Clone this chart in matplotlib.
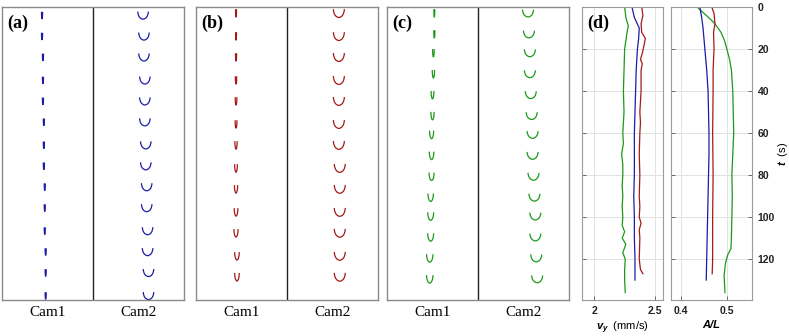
import matplotlib
matplotlib.use("Agg")
import matplotlib.pyplot as plt
from matplotlib.patches import Arc

plt.rcParams["mathtext.fontset"] = "custom"
plt.rcParams["mathtext.it"] = "Liberation Sans:italic:bold"
plt.rcParams["mathtext.rm"] = "Liberation Sans"

BLUE = "#1c1ca6"
RED = "#a51818"
GREEN = "#1a9a1a"

# ---- snapshot panels (a)-(c): frame time, lateral position, shape size ----
a_t = [4, 14, 24, 35, 45, 55, 66, 76, 86, 96, 107, 117, 127, 138]
a_cam1_x = [0.44, 0.44, 0.45, 0.45, 0.45, 0.46, 0.46, 0.46, 0.47, 0.47, 0.47, 0.48, 0.48, 0.48]
a_cam2_x = [1.55, 1.56, 1.56, 1.57, 1.57, 1.57, 1.58, 1.58, 1.59, 1.59, 1.60, 1.60, 1.61, 1.61]
a_cam1_w = [0.012] * 14
a_cam2_w = [0.115] * 14

b_t = [3, 14, 24, 35, 45, 56, 66, 77, 87, 98, 108, 119, 129]
b_cam1_x = [0.44, 0.44, 0.44, 0.44, 0.44, 0.44, 0.44, 0.44, 0.44, 0.44, 0.44, 0.45, 0.45]
b_cam2_x = [1.57, 1.57, 1.57, 1.57, 1.57, 1.57, 1.57, 1.58, 1.58, 1.58, 1.58, 1.58, 1.58]
b_cam1_w = [0.01, 0.01, 0.012, 0.015, 0.018, 0.02, 0.025, 0.03, 0.035, 0.04, 0.045, 0.05, 0.05]
b_cam2_w = [0.12] * 13

c_t = [3, 13, 22, 32, 42, 52, 61, 71, 81, 91, 100, 110, 120, 130]
c_cam1_x = [0.52, 0.52, 0.51, 0.51, 0.50, 0.50, 0.49, 0.49, 0.49, 0.48, 0.48, 0.48, 0.47, 0.47]
c_cam2_x = [1.55, 1.56, 1.57, 1.57, 1.58, 1.59, 1.60, 1.60, 1.61, 1.62, 1.63, 1.63, 1.64, 1.65]
c_cam1_w = [0.01, 0.012, 0.018, 0.025, 0.03, 0.035, 0.045, 0.05, 0.055, 0.06, 0.065, 0.065, 0.07, 0.07]
c_cam2_w = [0.12] * 14

# ---- panel (d): swimming speed and amplitude vs time ----
vy_green_t = [0, 5, 9, 12, 20, 30, 40, 50, 55, 60, 65, 70, 75, 80, 85, 90, 95, 100, 104, 107, 110, 113, 117, 120, 125, 130, 136]
vy_green = [2.25, 2.26, 2.28, 2.27, 2.25, 2.245, 2.24, 2.245, 2.24, 2.235, 2.24, 2.225, 2.235, 2.235, 2.23, 2.235, 2.23,
            2.235, 2.23, 2.25, 2.23, 2.26, 2.235, 2.255, 2.25, 2.25, 2.255]
vy_blue_t = [0, 5, 10, 15, 20, 25, 30, 40, 50, 60, 70, 80, 90, 100, 110, 120, 130]
vy_blue = [2.31, 2.33, 2.37, 2.365, 2.355, 2.35, 2.345, 2.34, 2.335, 2.33, 2.33, 2.33, 2.325, 2.33, 2.33, 2.335, 2.335]
vy_red_t = [0, 4, 8, 12, 15, 18, 22, 25, 27, 30, 40, 50, 55, 60, 70, 80, 90, 95, 100, 103, 106, 110, 120, 125, 127]
vy_red = [2.39, 2.40, 2.385, 2.39, 2.42, 2.41, 2.395, 2.38, 2.395, 2.385, 2.385, 2.375, 2.38, 2.375, 2.37, 2.375, 2.37,
          2.375, 2.37, 2.385, 2.37, 2.375, 2.37, 2.38, 2.40]

al_green_t = [0, 3, 6, 8, 12, 16, 20, 25, 30, 40, 50, 60, 70, 80, 90, 100, 110, 115, 118, 122, 128, 136]
al_green = [0.435, 0.45, 0.465, 0.474, 0.487, 0.495, 0.50, 0.506, 0.51, 0.513, 0.514, 0.515, 0.513, 0.511, 0.512,
            0.511, 0.51, 0.509, 0.502, 0.497, 0.494, 0.496]
al_blue_t = [0, 5, 10, 20, 30, 40, 50, 60, 70, 80, 90, 100, 110, 120, 130]
al_blue = [0.441, 0.445, 0.448, 0.452, 0.456, 0.459, 0.46, 0.461, 0.461, 0.46, 0.459, 0.458, 0.457, 0.456, 0.455]
al_red_t = [0, 3, 8, 12, 20, 30, 40, 60, 80, 100, 120, 127]
al_red = [0.467, 0.472, 0.474, 0.471, 0.472, 0.470, 0.470, 0.469, 0.470, 0.469, 0.469, 0.468]

W, H = 789, 336
FIG = plt.figure(figsize=(W / 100, H / 100), dpi=100)


def px_axes(x0, x1, y0=7, y1=300):
    """axes from pixel box (top-left origin)"""
    return FIG.add_axes([x0 / W, 1 - y1 / H, (x1 - x0) / W, (y1 - y0) / H])


def draw_marks(ax, ts, xs, ws, depth, color, skew=0):
    for t, x, w in zip(ts, xs, ws):
        # lower half of an ellipse -> U shape (y axis is inverted)
        arc = Arc((x, t - depth / 2), w, 2 * depth, theta1=0 + skew, theta2=180 + skew,
                  color=color, lw=0.9)
        ax.add_patch(arc)


def snapshot_panel(x0, x1, letter, ts, x1s, w1s, x2s, w2s, d1, d2, color, skew2=0):
    ax = px_axes(x0, x1)
    ax.set_xlim(0, 2)
    ax.set_ylim(140, 0)
    ax.set_xticks([])
    ax.set_yticks([])
    for s in ax.spines.values():
        s.set_color("#8a8a8a")
        s.set_linewidth(1.0)
    ax.axvline(1, color="#222222", lw=1.0)
    draw_marks(ax, ts, x1s, w1s, d1, color)
    draw_marks(ax, ts, x2s, w2s, d2, color, skew2)
    ax.text(0.03, 0.975, letter, transform=ax.transAxes, ha="left", va="top",
            family="Liberation Serif", fontweight="bold", fontsize=13)
    for xc, name in ((0.5, "Cam1"), (1.5, "Cam2")):
        ax.text(xc, -0.022, name, ha="center", va="top", transform=ax.get_xaxis_transform(),
                family="Liberation Serif", fontsize=11)
    return ax


snapshot_panel(2, 184, "(a)", a_t, a_cam1_x, a_cam1_w, a_cam2_x, a_cam2_w, 3.4, 3.6, BLUE)
snapshot_panel(196, 378, "(b)", b_t, b_cam1_x, b_cam1_w, b_cam2_x, b_cam2_w, 3.8, 4.0, RED)
snapshot_panel(387, 569, "(c)", c_t, c_cam1_x, c_cam1_w, c_cam2_x, c_cam2_w, 3.8, 3.5, GREEN, skew2=15)

# panel (d)
AXV = px_axes(582, 663)
AXA = px_axes(671, 752)
for ax in (AXV, AXA):
    ax.set_ylim(139.5, 0)
    ax.set_yticks([0, 20, 40, 60, 80, 100, 120])
    ax.grid(True, color="#e2e2e2", lw=0.7)
    ax.set_axisbelow(True)
    for s in ax.spines.values():
        s.set_color("#9a9a9a")
        s.set_linewidth(0.8)
    ax.tick_params(direction="in", length=3, width=0.6, color="#555555",
                   labelsize=7.5, labelcolor="#222222", pad=4)

AXV.plot(vy_green, vy_green_t, color=GREEN, lw=0.9)
AXV.plot(vy_blue, vy_blue_t, color=BLUE, lw=0.9)
AXV.plot(vy_red, vy_red_t, color=RED, lw=0.9)
AXV.set_xlim(1.9, 2.565)
AXV.set_xticks([2, 2.5])
AXV.set_xticklabels(["2", "2.5"])
AXV.tick_params(axis="y", labelleft=False)
AXV.set_xlabel(r"$v_y$  (mm/s)", fontsize=8, family="Liberation Sans", labelpad=3)
AXV.text(0.06, 0.975, "(d)", transform=AXV.transAxes, ha="left", va="top",
         family="Liberation Serif", fontweight="bold", fontsize=13)

AXA.plot(al_green, al_green_t, color=GREEN, lw=0.9)
AXA.plot(al_blue, al_blue_t, color=BLUE, lw=0.9)
AXA.plot(al_red, al_red_t, color=RED, lw=0.9)
AXA.set_xlim(0.378, 0.555)
AXA.set_xticks([0.4, 0.5])
AXA.set_xticklabels(["0.4", "0.5"])
AXA.yaxis.tick_right()
AXA.yaxis.set_label_position("right")
AXA.tick_params(axis="y", labelright=True, labelleft=False, left=True)
AXA.set_xlabel("A/L", fontsize=8, family="Liberation Sans", fontweight="bold", style="italic", labelpad=3)
AXA.set_ylabel(r"$t$  (s)", fontsize=8, family="Liberation Sans", rotation=90, labelpad=1)

for ax in (AXV, AXA):
    for lab in ax.get_xticklabels() + ax.get_yticklabels():
        lab.set_fontweight("bold")
        lab.set_family("Liberation Sans")

FIG.savefig("out.png", dpi=100)
